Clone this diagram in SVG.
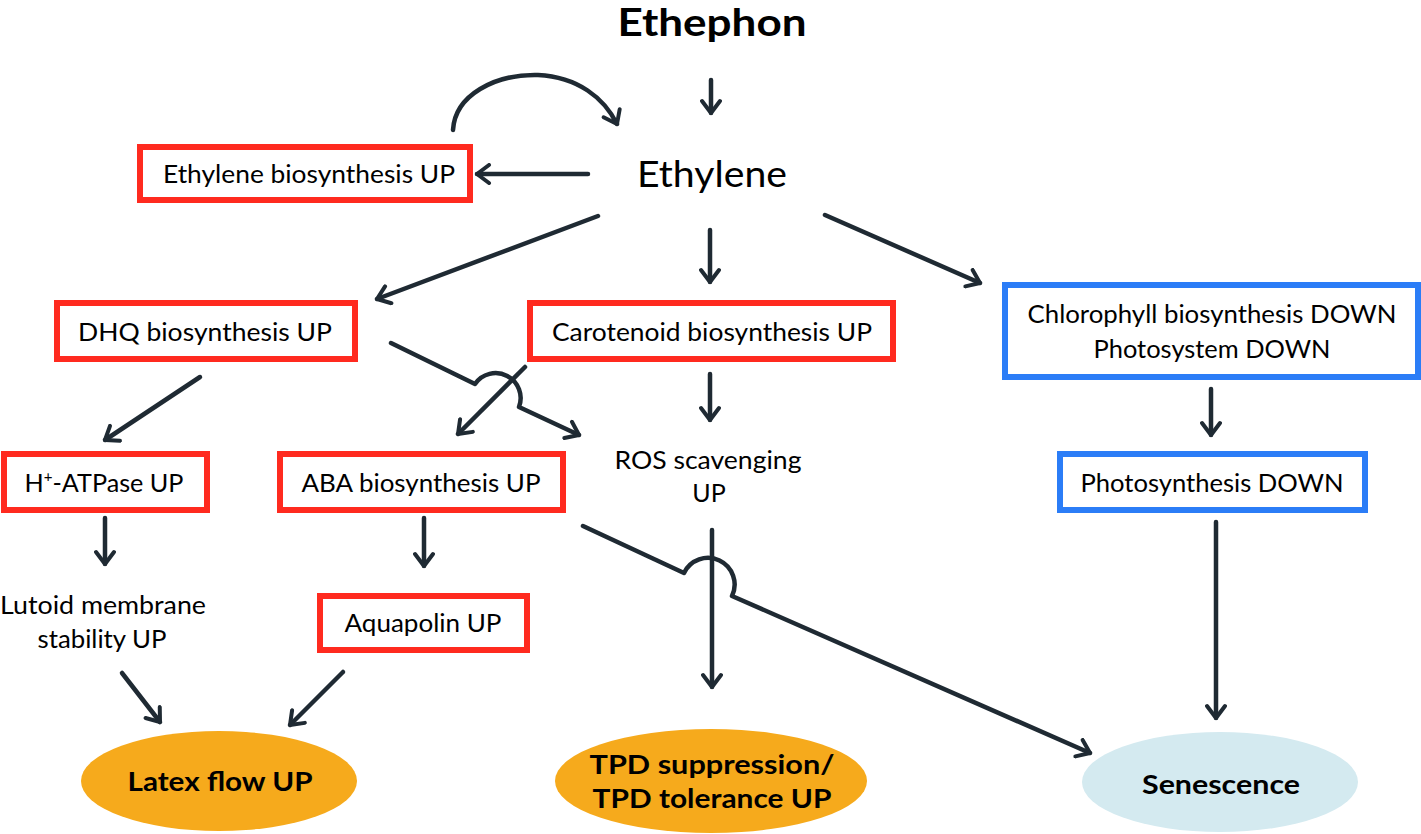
<svg xmlns="http://www.w3.org/2000/svg" width="1421" height="834" viewBox="0 0 1421 834">
<defs>
<marker id="ah" viewBox="0 0 18 22" refX="15" refY="11" markerWidth="18" markerHeight="22" markerUnits="userSpaceOnUse" orient="auto">
<path d="M3,2 L15,11 L3,20" fill="none" stroke="#1f2a33" stroke-width="4" stroke-linecap="round" stroke-linejoin="round"/>
</marker>
<style>
.t{font-family:Lato,"Liberation Sans",sans-serif;fill:#000;text-anchor:middle;}
.b{font-size:25px;}
.bold{font-weight:bold;}
.red{fill:#fff;stroke:#ff2a1f;stroke-width:6;}
.blue{fill:#fff;stroke:#2b7df7;stroke-width:6;}
.c{fill:none;stroke:#1f2a33;stroke-width:4.5;stroke-linecap:round;stroke-linejoin:round;}
.a{marker-end:url(#ah);}
</style>
</defs>
<rect width="1421" height="834" fill="#fff"/>

<g id="connectors">
<path class="c a" d="M711,80 L711,113"/>
<path class="c a" d="M453,130 C455,95 495,74 538,75 C578,77 604,98 617,124"/>
<path class="c a" d="M588,174 L477,174"/>
<path class="c a" d="M598,216 L377,299"/>
<path class="c a" d="M710,230 L710,282"/>
<path class="c a" d="M825,215 L980,283"/>
<path class="c a" d="M1211,389 L1211,435"/>
<path class="c a" d="M710,374 L710,420"/>
<path class="c a" d="M200,377 L105,440"/>
<path class="c a" d="M391,343 L475,384 A25,25 0 0 1 519,407 L579,435"/>
<path class="c a" d="M525,367 L458,434"/>
<path class="c a" d="M105,518 L105,564"/>
<path class="c a" d="M424,518 L424,566"/>
<path class="c a" d="M122,673 L160,722"/>
<path class="c a" d="M343,672 L290,725"/>
<path class="c a" d="M712,530 L712,687"/>
<path class="c a" d="M583,526 L684,573 A25,25 0 0 1 732,596 L1090,753"/>
<path class="c a" d="M1216,522 L1216,718"/>
</g>

<g id="ethephon"><text class="t bold" x="712" y="36" font-size="38" textLength="189" lengthAdjust="spacingAndGlyphs">Ethephon</text></g>
<g id="ethylene"><text class="t" x="712" y="187" font-size="37" textLength="150" lengthAdjust="spacingAndGlyphs">Ethylene</text></g>

<g id="ethylene-biosynthesis">
<rect class="red" x="140" y="147" width="330" height="53"/>
<text class="t b" x="309" y="183" textLength="292" lengthAdjust="spacingAndGlyphs">Ethylene biosynthesis UP</text>
</g>
<g id="dhq">
<rect class="red" x="57" y="303" width="298" height="56"/>
<text class="t b" x="205" y="341" textLength="254" lengthAdjust="spacingAndGlyphs">DHQ biosynthesis UP</text>
</g>
<g id="carotenoid">
<rect class="red" x="530" y="303" width="363" height="56"/>
<text class="t b" x="712" y="341" textLength="320" lengthAdjust="spacingAndGlyphs">Carotenoid biosynthesis UP</text>
</g>
<g id="chlorophyll">
<rect class="blue" x="1005" y="285" width="413" height="92"/>
<text class="t b" x="1212" y="323" textLength="369" lengthAdjust="spacingAndGlyphs">Chlorophyll biosynthesis DOWN</text>
<text class="t b" x="1212" y="358" textLength="237" lengthAdjust="spacingAndGlyphs">Photosystem DOWN</text>
</g>
<g id="photosynthesis">
<rect class="blue" x="1060" y="454" width="305" height="56"/>
<text class="t b" x="1212" y="492" textLength="263" lengthAdjust="spacingAndGlyphs">Photosynthesis DOWN</text>
</g>
<g id="h-atpase">
<rect class="red" x="4" y="454" width="203" height="56"/>
<text class="t b" x="104" y="492" textLength="159" lengthAdjust="spacingAndGlyphs">H<tspan font-size="15" dy="-10">+</tspan><tspan dy="10">-ATPase UP</tspan></text>
</g>
<g id="aba">
<rect class="red" x="280" y="454" width="283" height="56"/>
<text class="t b" x="421" y="492" textLength="239" lengthAdjust="spacingAndGlyphs">ABA biosynthesis UP</text>
</g>
<g id="ros">
<text class="t b" x="708" y="469" textLength="187" lengthAdjust="spacingAndGlyphs">ROS scavenging</text>
<text class="t b" x="709" y="502">UP</text>
</g>
<g id="lutoid">
<text class="t b" x="103" y="614" textLength="206" lengthAdjust="spacingAndGlyphs">Lutoid membrane</text>
<text class="t b" x="102" y="648" textLength="129" lengthAdjust="spacingAndGlyphs">stability UP</text>
</g>
<g id="aquapolin">
<rect class="red" x="320" y="596" width="207" height="54"/>
<text class="t b" x="423" y="632" textLength="157" lengthAdjust="spacingAndGlyphs">Aquapolin UP</text>
</g>
<g id="latex">
<ellipse cx="219" cy="781" rx="138" ry="50" fill="#f6aa1c"/>
<text class="t bold" x="220" y="791" font-size="27" textLength="185" lengthAdjust="spacingAndGlyphs">Latex flow UP</text>
</g>
<g id="tpd">
<ellipse cx="711" cy="781" rx="156" ry="52" fill="#f6aa1c"/>
<text class="t bold" x="712" y="774" font-size="27" textLength="245" lengthAdjust="spacingAndGlyphs">TPD suppression/</text>
<text class="t bold" x="712" y="808" font-size="27" textLength="239" lengthAdjust="spacingAndGlyphs">TPD tolerance UP</text>
</g>
<g id="senescence">
<ellipse cx="1220" cy="782" rx="138" ry="50" fill="#d4eaf0"/>
<text class="t bold" x="1221" y="794" font-size="27" fill="#0d1a2a" textLength="158" lengthAdjust="spacingAndGlyphs">Senescence</text>
</g>
</svg>
